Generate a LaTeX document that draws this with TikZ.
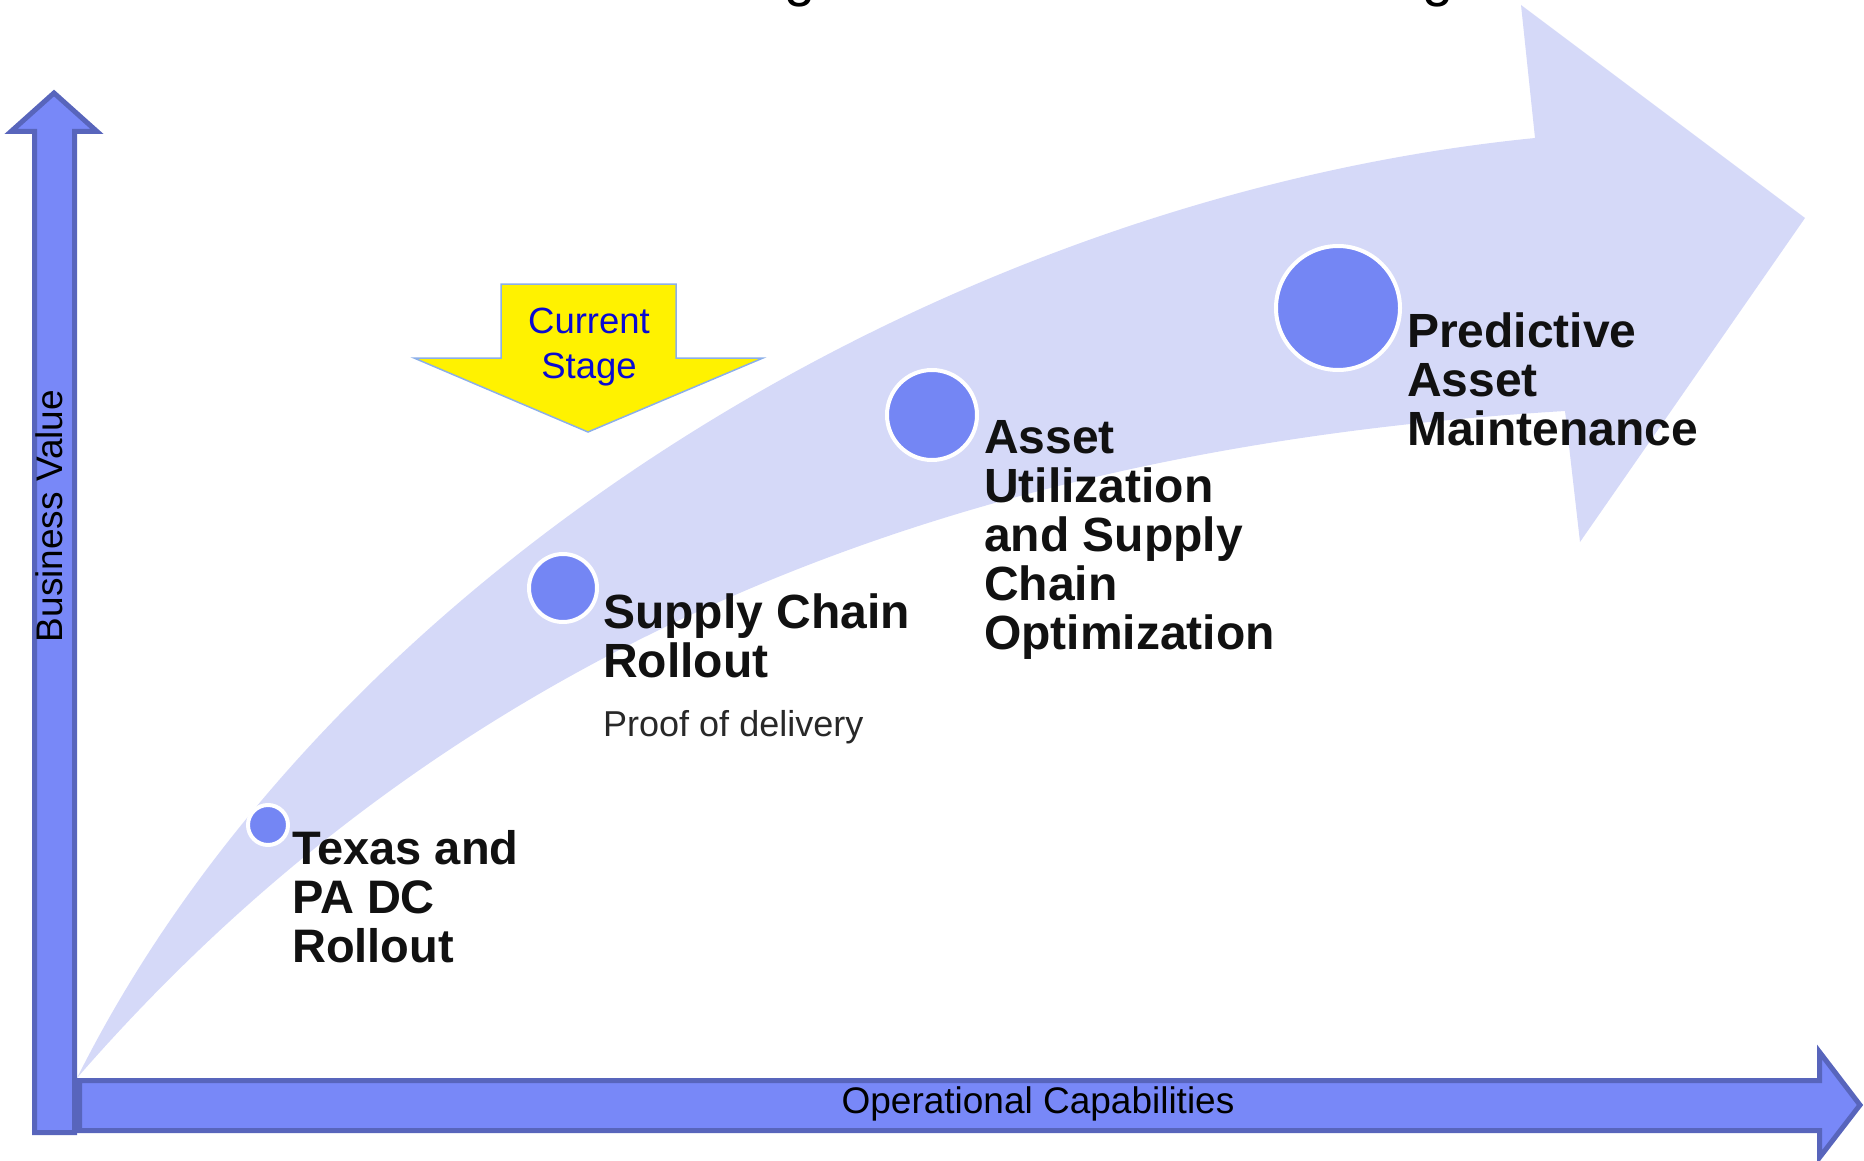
\documentclass[tikz,border=0pt]{standalone}
\usepackage{fontspec}
\setmainfont{Liberation Sans}
\definecolor{axisfill}{RGB}{120,136,248}
\definecolor{axisline}{RGB}{88,101,188}
\definecolor{bandfill}{RGB}{213,217,248}
\definecolor{dotfill}{RGB}{116,134,244}
\definecolor{stageblue}{RGB}{10,10,210}
\definecolor{stageline}{RGB}{140,175,232}
\definecolor{labelink}{RGB}{17,17,17}
\definecolor{subink}{RGB}{40,40,40}
\begin{document}
\begin{tikzpicture}[x=1pt,y=-1pt,
  axisarrow/.style={fill=axisfill,draw=axisline,line width=5pt,line join=miter},
  band/.style={fill=bandfill},
  dot/.style={circle,fill=dotfill,draw=white,line width=4pt,inner sep=0pt},
  milestone/.style={font=\fontsize{48}{49}\selectfont\bfseries,text=labelink,align=left,anchor=base west,inner sep=0pt},
  sublabel/.style={font=\fontsize{36}{40}\selectfont,text=subink,anchor=base west,inner sep=0pt},
  axislabel/.style={font=\fontsize{36}{40}\selectfont,text=black,anchor=base,inner sep=0pt},
  stagearrow/.style={fill=yellow,draw=stageline,line width=1.5pt,line join=miter},
  stagetext/.style={font=\fontsize{36.5}{45}\selectfont,text=stageblue,align=center,anchor=base,inner sep=0pt},
  titlefrag/.style={font=\fontsize{56}{60}\selectfont,text=black,anchor=base,inner sep=0pt}]
\useasboundingbox (0,0) rectangle (1864,1161);
\begin{scope}
\clip (0,0) rectangle (1864,1161);
% cut-off title fragments
\node[titlefrag] (tg1) at (800,-4) {g};
\node[titlefrag] (tg2) at (1438,-4) {g};
% big curved arrow
\fill[band] (77,1078) .. controls (327,578) and (935,198) .. (1535,138)
  -- (1521,5) -- (1805,218) -- (1580,542) -- (1565,411)
  .. controls (1000,445) and (477,618) .. (77,1078) -- cycle;
% vertical axis
\draw[axisarrow] (34.5,1132.5) -- (34.5,131.5) -- (11,131.5) -- (54,93) -- (97,131.5) -- (74.5,131.5) -- (74.5,1132.5) -- cycle;
% horizontal axis
\draw[axisarrow] (79.5,1080.5) -- (1819.5,1080.5) -- (1819.5,1052) -- (1860,1105) -- (1819.5,1157.5) -- (1819.5,1130.5) -- (79.5,1130.5) -- cycle;
\end{scope}
\node[axislabel,rotate=90,font=\fontsize{37}{40}\selectfont] (yl) at (62,516) {Business Value};
\node[axislabel,font=\fontsize{37}{40}\selectfont] (xl) at (1038,1113) {Operational Capabilities};
% current stage arrow
\draw[stagearrow] (501,284) -- (676,284) -- (676,358) -- (763,358) -- (588,432) -- (414,358) -- (501,358) -- cycle;
\node[stagetext] (cs) at (589,378) {Current\\Stage};
% milestones
\node[dot,minimum size=40pt] (d1) at (268,825) {};
\node[dot,minimum size=68pt] (d2) at (563,588) {};
\node[dot,minimum size=90pt] (d3) at (932,415) {};
\node[dot,minimum size=124pt] (d4) at (1338,308) {};
\node[milestone,font=\fontsize{47}{49}\selectfont\bfseries] (t1) at (292,962) {Texas and\\PA DC\\Rollout};
\node[milestone] (t2) at (603,677) {Supply Chain\\Rollout};
\node[sublabel] (t2b) at (603,736) {Proof of delivery};
\node[milestone] (t3) at (984,649) {Asset\\Utilization\\and Supply\\Chain\\Optimization};
\node[milestone] (t4) at (1407,445) {Predictive\\Asset\\Maintenance};
\end{tikzpicture}
\end{document}
